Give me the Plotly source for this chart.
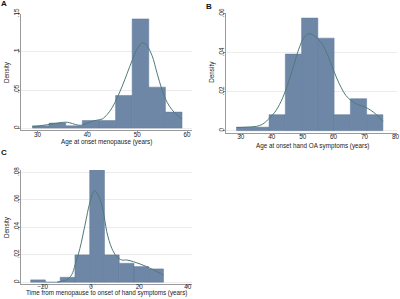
import plotly.graph_objects as go

# ---------------- data ----------------
# Panel A: age at onset of menopause (years)
a_edges = [29.0, 32.33, 35.67, 39.0, 42.33, 45.67, 49.0, 52.33, 55.67, 59.0]
a_density = [0.003, 0.0066, 0.003, 0.010, 0.010, 0.0428, 0.1434, 0.0538, 0.021]
a_kde_x = [29, 30.5, 32, 33.5, 35, 36, 37, 38.2, 39, 40, 41, 42, 43, 44, 45, 46,
           47, 48, 49, 50, 51, 51.5, 52, 53, 54, 55, 56, 57, 58, 59]
a_kde_y = [0.0015, 0.003, 0.0045, 0.006, 0.0075, 0.0076, 0.006, 0.0038, 0.004,
           0.0065, 0.009, 0.0105, 0.012, 0.018, 0.027, 0.040, 0.055, 0.072, 0.089,
           0.104, 0.112, 0.111, 0.108, 0.095, 0.072, 0.050, 0.034, 0.024, 0.017, 0.012]
a_xticks = [30, 40, 50, 60]
a_yticks = [0, 0.05, 0.1, 0.15]
a_yticktext = ["0", ".05", ".1", ".15"]

# Panel B: age at onset of hand OA symptoms (years)
b_edges = [28.6, 33.86, 39.12, 44.38, 49.64, 54.9, 60.16, 65.42, 70.68, 75.94]
b_density = [0.0018, 0.0018, 0.0082, 0.0393, 0.0578, 0.0475, 0.0082, 0.0164, 0.0082]
b_kde_x = [28.6, 32, 35, 37, 39, 41, 43, 45, 47, 49, 50.5, 52, 53.5, 55, 56.5, 58,
           59.5, 61, 62.5, 64, 66, 68, 70, 72, 74, 76]
b_kde_y = [0.0016, 0.0018, 0.0022, 0.0033, 0.006, 0.0095, 0.015, 0.023, 0.033,
           0.043, 0.048, 0.0497, 0.049, 0.047, 0.044, 0.039, 0.033, 0.027, 0.022,
           0.018, 0.015, 0.0133, 0.0122, 0.0105, 0.008, 0.0048]
b_xticks = [30, 40, 50, 60, 70, 80]
b_yticks = [0, 0.02, 0.04, 0.06]
b_yticktext = ["0", ".02", ".04", ".06"]

# Panel C: time from menopause to onset of hand symptoms (years)
c_edges = [-25.0, -18.89, -12.78, -6.67, -0.56, 5.56, 11.67, 17.78, 23.89, 30.0]
c_density = [0.0017, 0.0, 0.0036, 0.0199, 0.0824, 0.0199, 0.0138, 0.0114, 0.0097]
c_kde_x = [-14, -12, -10, -8, -6.6, -4.6, -2.5, -0.4, 1.4, 3, 5.1, 6.5, 8.6, 10.6,
           12.7, 14.8, 17.5, 20.3, 23, 25.8, 30]
c_kde_y = [0.0002, 0.0008, 0.0017, 0.0055, 0.0126, 0.0247, 0.0417, 0.0587, 0.0666,
           0.0635, 0.0514, 0.0368, 0.0247, 0.0187, 0.0162, 0.0162, 0.015, 0.0133,
           0.0114, 0.009, 0.0053]
c_xticks = [-20, 0, 20, 40]
c_yticks = [0, 0.02, 0.04, 0.06, 0.08]
c_yticktext = ["0", ".02", ".04", ".06", ".08"]

titles_x = ["Age at onset menopause (years)",
            "Age at onset hand OA symptoms (years)",
            "Time from menopause to onset of hand symptoms (years)"]
panel_letters = ["A", "B", "C"]

# ---------------- style ----------------
W, H = 400, 299
BAR = "#6e87a6"
BAR_LINE = "#61799a"
KDE = "#4f7a7b"
AX = "#9a9a9a"
GRID = "#ececec"
TXT = "#222222"
FONT = "Liberation Sans, Arial, sans-serif"
FS = 6.3

def px_x(p):
    return p / W

def px_y(p):
    return 1 - p / H

panels = [
    dict(edges=a_edges, dens=a_density, kx=a_kde_x, ky=a_kde_y, xt=a_xticks,
         yt=a_yticks, ytt=a_yticktext, xr=[26.7, 61.0], yr=[-0.0025, 0.1505],
         dom_x=[21, 192], dom_y=[13.5, 130], xso=-4),
    dict(edges=b_edges, dens=b_density, kx=b_kde_x, ky=b_kde_y, xt=b_xticks,
         yt=b_yticks, ytt=b_yticktext, xr=[25.2, 80.5], yr=[-0.0012, 0.0604],
         dom_x=[226, 397], dom_y=[13, 133], xso=-5),
    dict(edges=c_edges, dens=c_density, kx=c_kde_x, ky=c_kde_y, xt=c_xticks,
         yt=c_yticks, ytt=c_yticktext, xr=[-29.0, 41.8], yr=[-0.0013, 0.0818],
         dom_x=[21, 192], dom_y=[170, 284], xso=-6),
]

fig = go.Figure()
layout = dict(width=W, height=H, margin=dict(l=0, r=0, t=0, b=0),
              paper_bgcolor="white", plot_bgcolor="white", showlegend=False,
              font=dict(family=FONT, size=FS, color=TXT))

for i, p in enumerate(panels):
    n = "" if i == 0 else str(i + 1)
    xa, ya = "x" + n, "y" + n
    e = p["edges"]
    centers = [(e[k] + e[k + 1]) / 2 for k in range(len(e) - 1)]
    widths = [e[k + 1] - e[k] for k in range(len(e) - 1)]
    fig.add_trace(go.Bar(x=centers, y=p["dens"], width=widths,
                         marker=dict(color=BAR, line=dict(color=BAR_LINE, width=0.5)),
                         xaxis=xa, yaxis=ya, hoverinfo="skip"))
    fig.add_trace(go.Scatter(x=p["kx"], y=p["ky"], mode="lines",
                             line=dict(color=KDE, width=1, shape="spline"),
                             xaxis=xa, yaxis=ya, hoverinfo="skip"))
    layout["xaxis" + n] = dict(
        domain=[px_x(p["dom_x"][0]), px_x(p["dom_x"][1])], range=p["xr"],
        anchor=ya, tickvals=p["xt"], showgrid=False, zeroline=False,
        showline=True, linecolor=AX, linewidth=1, ticks="outside", ticklen=2,
        tickcolor=AX, tickfont=dict(size=FS, color=TXT), automargin=False,
        ticklabelstandoff=p["xso"])
    layout["yaxis" + n] = dict(
        domain=[px_y(p["dom_y"][1]), px_y(p["dom_y"][0])], range=p["yr"],
        anchor=xa, tickvals=p["yt"], ticktext=p["ytt"], tickangle=-90,
        showgrid=True, gridcolor=GRID, gridwidth=1, zeroline=False,
        showline=True, linecolor=AX, linewidth=1, ticks="outside", ticklen=2,
        tickcolor=AX, tickfont=dict(size=FS, color=TXT), automargin=False,
        ticklabelstandoff=-4)

fig.update_layout(**layout)

# axis titles and panel letters as annotations (pixel-placed)
ann = []
xt_pos = [(106, 141.7), (312, 145.7), (106.5, 293)]
yt_pos = [(7, 72), (211.7, 72), (7, 227)]
letter_pos = [(3.5, 3.5), (209, 6.5), (3.5, 152.5)]
for i in range(3):
    ann.append(dict(text=titles_x[i], x=px_x(xt_pos[i][0]), y=px_y(xt_pos[i][1]),
                    xref="paper", yref="paper", showarrow=False,
                    xanchor="center", yanchor="middle", font=dict(size=FS, color=TXT)))
    ann.append(dict(text="Density", x=px_x(yt_pos[i][0]), y=px_y(yt_pos[i][1]),
                    xref="paper", yref="paper", showarrow=False, textangle=-90,
                    xanchor="center", yanchor="middle", font=dict(size=FS, color=TXT)))
    ann.append(dict(text="<b>" + panel_letters[i] + "</b>", x=px_x(letter_pos[i][0]),
                    y=px_y(letter_pos[i][1]), xref="paper", yref="paper",
                    showarrow=False, xanchor="center", yanchor="middle",
                    font=dict(size=8, color="#111111")))
fig.update_layout(annotations=ann)

fig.write_html("out.html", config={"displayModeBar": False},
               post_script="document.body.style.margin='0px';")
